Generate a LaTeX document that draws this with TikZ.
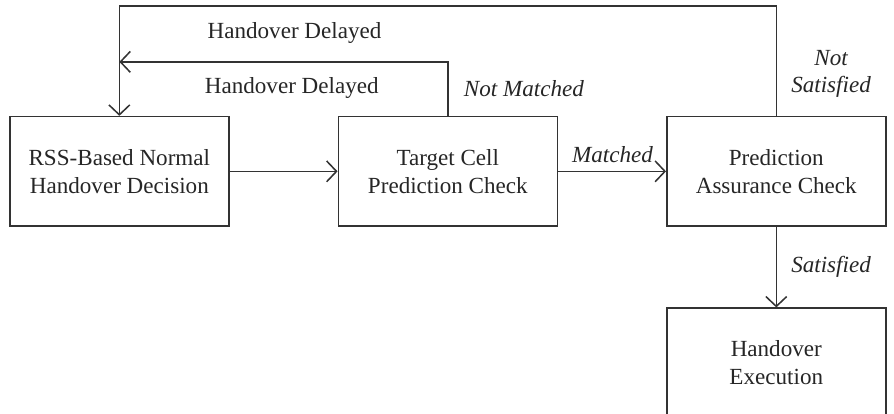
\documentclass[tikz,border=0pt]{standalone}
\usepackage{fontspec}
\setmainfont{Liberation Serif}
\usetikzlibrary{arrows.meta}

\begin{document}
\begin{tikzpicture}[
        stepbox/.style={draw=black!80, line width=0.8pt, minimum width=4cm, minimum height=2cm, align=center, font=\fontsize{12}{14.5}\selectfont, text=black!85},
        flow/.style={-{Straight Barb[length=1.8mm, width=3.8mm]}, line width=0.8pt, draw=black!80},
        plain/.style={line width=0.8pt, draw=black!80},
        lbl/.style={font=\fontsize{12}{14.5}\selectfont, text=black!85, align=center},
        cond/.style={lbl, font=\fontsize{12}{14.5}\selectfont\itshape}
    ]
        \useasboundingbox (-2.18, -4.43) rectangle (14.15, 3.13);

        % Blocks
        \node[stepbox] (rss) at (0, 0) {RSS-Based Normal\\Handover Decision};
        \node[stepbox] (tcp) at (6, 0) {Target Cell\\Prediction Check};
        \node[stepbox] (pac) at (12, 0) {Prediction\\Assurance Check};
        \node[stepbox] (exe) at (12, -3.5) {Handover\\Execution};

        % Forward path
        \draw[flow] (rss) -- (tcp);
        \draw[flow] (tcp) -- (pac);
        \draw[flow] (pac) -- (exe);

        % Feedback loops
        \coordinate (join) at (0, 2);
        \coordinate (corner) at (0, 3.02);
        \draw[flow] (tcp.north) |- (join);
        \draw[plain] (pac.north) |- (corner);
        \draw[flow] (corner) -- (rss.north);

        % Labels
        \node[lbl] (hdtop) at (3.2, 2.53) {Handover Delayed};
        \node[lbl] (hdlow) at (3.15, 1.52) {Handover Delayed};
        \node[cond] (nm) at (7.39, 1.52) {Not Matched};
        \node[cond] (ns) at (13.0, 1.78) {Not\\Satisfied};
        \node[cond] (mt) at (9.01, 0.3) {Matched};
        \node[cond] (st) at (13.0, -1.74) {Satisfied};
    \end{tikzpicture}
\end{document}
